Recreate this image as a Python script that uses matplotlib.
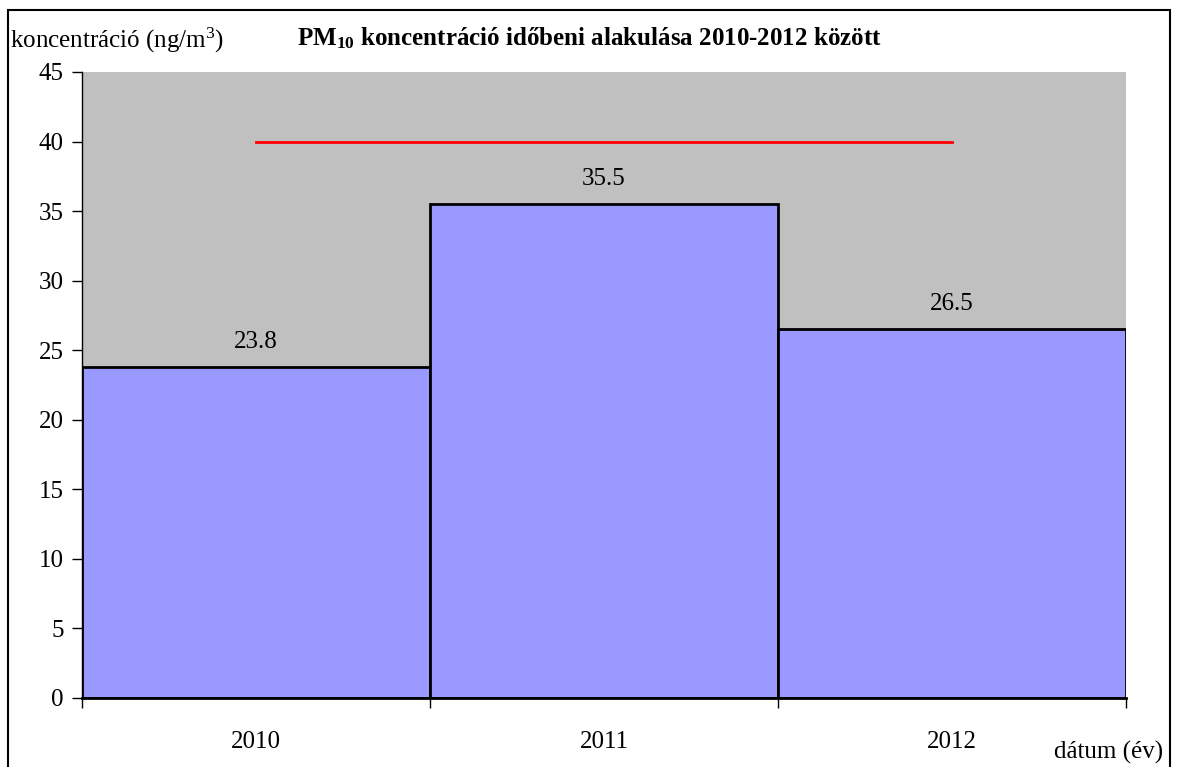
import matplotlib.pyplot as plt
from matplotlib.patches import Rectangle

years = ['2010', '2011', '2012']
values = [23.8, 35.5, 26.5]
limit = 40
yticks = [0, 5, 10, 15, 20, 25, 30, 35, 40, 45]

plt.rcParams['font.family'] = ['Liberation Serif', 'DejaVu Serif']
plt.rcParams['mathtext.fontset'] = 'custom'
plt.rcParams['mathtext.rm'] = 'Liberation Serif'
plt.rcParams['mathtext.it'] = 'Liberation Serif:italic'
plt.rcParams['mathtext.bf'] = 'Liberation Serif:bold'

fig = plt.figure(figsize=(11.79, 7.67), dpi=100)
ax = fig.add_axes([82 / 1179, 1 - 698 / 767, (1126 - 82) / 1179, (698 - 72) / 767])
ax.set_facecolor('#C0C0C0')

x = list(range(len(years)))
ax.bar(x, values, width=1.0, color='#9999FF', edgecolor='black', linewidth=2, zorder=2)
for xi, v in zip(x, values):
    ax.annotate(f'{v:.1f}', (xi, v), xytext=(0, 10), textcoords='offset points',
                ha='center', va='bottom', fontsize=18)

# limit line from center of first to center of last category
ax.plot([x[0], x[-1]], [limit, limit], color='#FF0000', linewidth=2, zorder=3)

ax.set_xlim(-0.5, len(years) - 0.5)
ax.set_ylim(0, 45)
ax.set_yticks(yticks)
ax.set_yticklabels([str(t) for t in yticks], fontsize=18)
ax.set_xticks(x)
ax.set_xticklabels(years, fontsize=18)
ax.tick_params(axis='x', length=0, pad=24)
ax.set_xticks([i - 0.5 for i in range(len(years) + 1)], minor=True)
ax.tick_params(axis='x', which='minor', length=7, width=1, color='black', direction='out')
ax.tick_params(axis='y', length=7, width=1, direction='out', pad=6)

for s in ['top', 'right']:
    ax.spines[s].set_visible(False)
ax.spines['left'].set_linewidth(1)
ax.spines['bottom'].set_linewidth(2)

fig.text(10 / 1179, 1 - 40 / 767, r'koncentráció (ng/m$^\mathrm{3}$)', fontsize=18,
         ha='left', va='center')
fig.text(0.5, 1 - 38 / 767, r'PM$_\mathbf{10}$ koncentráció időbeni alakulása 2010-2012 között',
         fontsize=18, fontweight='bold', ha='center', va='center')
fig.text(1163 / 1179, 1 - 752 / 767, 'dátum (év)', fontsize=18, ha='right', va='center')

# outer chart border
fig.patches.append(Rectangle((8 / 1179, -0.05), 1162 / 1179, 1 - 10 / 767 + 0.05,
                             transform=fig.transFigure, fill=False,
                             edgecolor='black', linewidth=1.5))

fig.savefig('out.png', dpi=100)
